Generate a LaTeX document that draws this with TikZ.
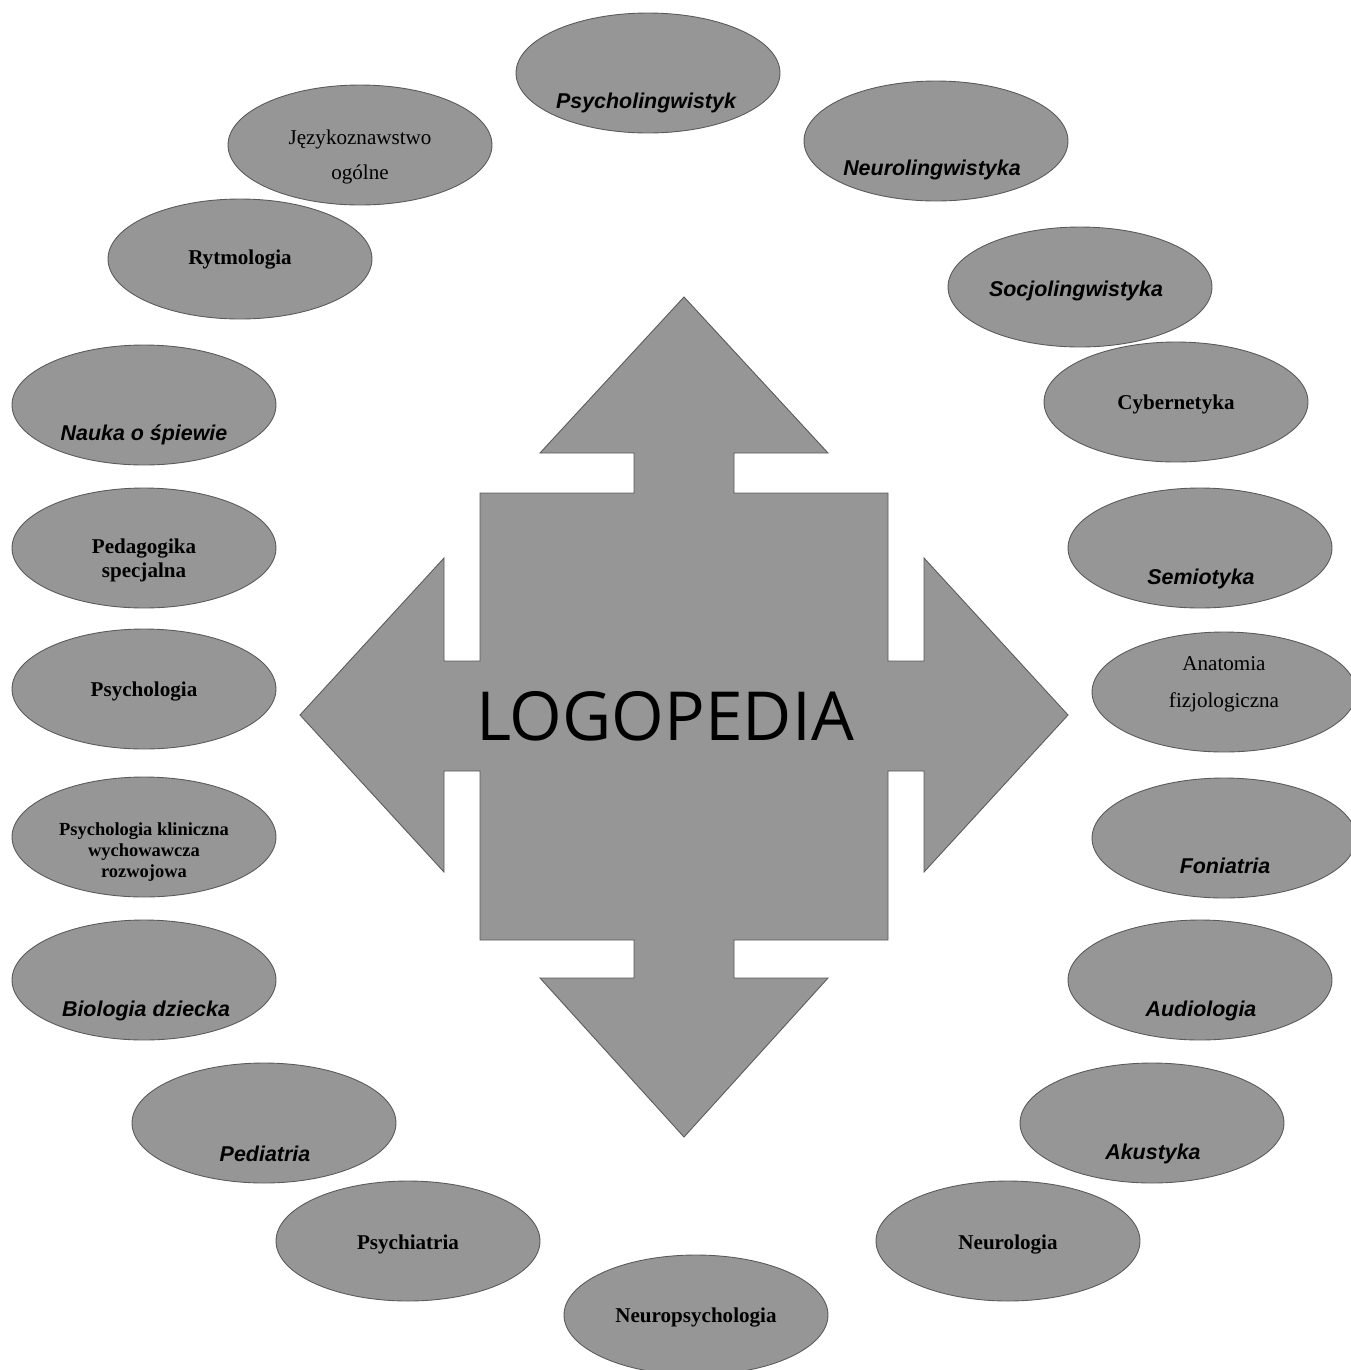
\documentclass[tikz,border=0pt]{standalone}
\usepackage{fontspec}
\setmainfont{Liberation Serif}
\newfontfamily\arialfont{Liberation Sans}
\newfontfamily\logofont{Open Sans}
\usetikzlibrary{shapes.geometric, positioning}

\definecolor{fillgray}{RGB}{150,150,150}
\definecolor{edgegray}{RGB}{90,90,90}

\begin{document}
\begin{tikzpicture}[
      x=0.02cm, y=-0.02cm,
      area/.style={ellipse, draw=edgegray, line width=0.5pt, fill=fillgray, minimum width=5.28cm, minimum height=2.4cm, inner sep=0pt},
      serif/.style={font=\fontsize{12}{20}\selectfont, align=center, inner sep=0pt},
      serifbold/.style={font=\fontsize{12}{13.6}\selectfont\bfseries, align=center, inner sep=0pt},
      sansit/.style={font=\arialfont\fontsize{12.2}{13}\selectfont\bfseries\itshape, inner sep=0pt},
      cross/.style={draw=edgegray, line width=0.5pt, fill=fillgray}
      ]

      \useasboundingbox (0,0) rectangle (1351,1370);

      % Central four-way arrow
      \draw[cross] (684,297) -- (828,453) -- (734,453) -- (734,493) -- (888,493)
         -- (888,661) -- (924,661) -- (924,558) -- (1068,715) -- (924,872) -- (924,771) -- (888,771)
         -- (888,940) -- (734,940) -- (734,978) -- (828,978) -- (684,1137) -- (540,978) -- (634,978) -- (634,940)
         -- (480,940) -- (480,771) -- (444,771) -- (444,872) -- (300,715) -- (444,558) -- (444,661) -- (480,661)
         -- (480,493) -- (634,493) -- (634,453) -- (540,453) -- cycle;
      \node[font=\logofont\fontsize{38.5}{42}\selectfont] (logo) at (665,716) {LOGOPEDIA};

      % Top
      \node[area] (psyling) at (648,73) {};
      \node[sansit] (psyling-t) at (646,103) {Psycholingwistyk};

      \node[area] (jezyk) at (360,145) {};
      \node[serif] (jezyk-t) at (360,157) {Językoznawstwo\\ogólne};

      \node[area] (neuroling) at (936,141) {};
      \node[sansit] (neuroling-t) at (932,170) {Neurolingwistyka};

      % Left column
      \node[area] (rytm) at (240,259) {};
      \node[serifbold] (rytm-t) at (240,260) {Rytmologia};

      \node[area] (spiew) at (144,405) {};
      \node[sansit] (spiew-t) at (144,435) {Nauka o śpiewie};

      \node[area] (pedag) at (144,548) {};
      \node[serifbold] (pedag-t) at (144,560) {Pedagogika\\specjalna};

      \node[area] (psych) at (144,689) {};
      \node[serifbold] (psych-t) at (144,692) {Psychologia};

      \node[area] (klin) at (144,837) {};
      \node[serifbold, font=\fontsize{10.5}{12.2}\selectfont\bfseries] (klin-t) at (144,852) {Psychologia kliniczna\\wychowawcza\\rozwojowa};

      \node[area] (biol) at (144,980) {};
      \node[sansit] (biol-t) at (146,1011) {Biologia dziecka};

      \node[area] (pediat) at (264,1123) {};
      \node[sansit] (pediat-t) at (265,1154) {Pediatria};

      \node[area] (psychiat) at (408,1241) {};
      \node[serifbold] (psychiat-t) at (408,1244) {Psychiatria};

      % Bottom
      \node[area] (neuropsych) at (696,1315) {};
      \node[serifbold] (neuropsych-t) at (696,1317) {Neuropsychologia};

      % Right column
      \node[area] (socjo) at (1080,287) {};
      \node[sansit] (socjo-t) at (1076,291) {Socjolingwistyka};

      \node[area] (cyber) at (1176,402) {};
      \node[serifbold] (cyber-t) at (1176,404) {Cybernetyka};

      \node[area] (semio) at (1200,548) {};
      \node[sansit] (semio-t) at (1201,579) {Semiotyka};

      \node[area] (anat) at (1224,692) {};
      \node[serif, font=\fontsize{12}{21}\selectfont] (anat-t) at (1224,684) {Anatomia\\fizjologiczna};

      \node[area] (fonia) at (1224,838) {};
      \node[sansit] (fonia-t) at (1225,866) {Foniatria};

      \node[area] (audio) at (1200,980) {};
      \node[sansit] (audio-t) at (1201,1011) {Audiologia};

      \node[area] (akust) at (1152,1123) {};
      \node[sansit] (akust-t) at (1153,1154) {Akustyka};

      \node[area] (neurol) at (1008,1241) {};
      \node[serifbold] (neurol-t) at (1008,1244) {Neurologia};

   \end{tikzpicture}
\end{document}
